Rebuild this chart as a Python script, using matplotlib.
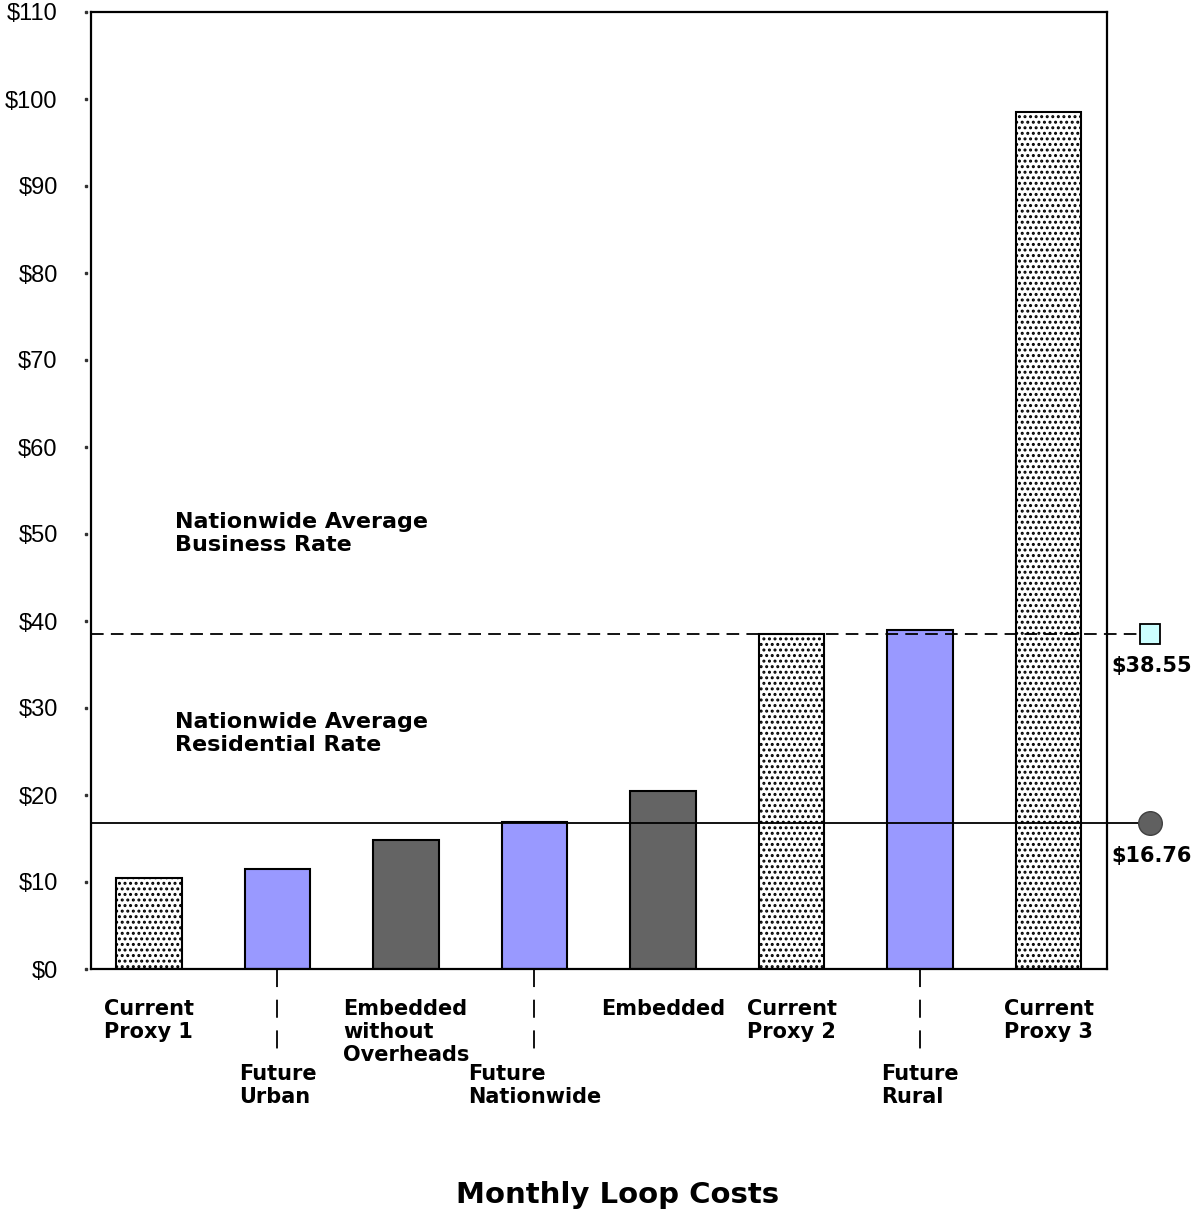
import matplotlib
matplotlib.use('Agg')
import matplotlib.pyplot as plt
import matplotlib.transforms as mtransforms
import numpy as np

# bars, left to right
categories = ['Current\nProxy 1', 'Future\nUrban', 'Embedded\nwithout\nOverheads',
              'Future\nNationwide', 'Embedded', 'Current\nProxy 2',
              'Future\nRural', 'Current\nProxy 3']
costs = [10.5, 11.5, 14.8, 16.9, 20.5, 38.5, 39.0, 98.5]
kinds = ['proxy', 'future', 'embedded', 'future', 'embedded', 'proxy', 'future', 'proxy']

business_rate = 38.55
residential_rate = 16.76

yticks = list(range(0, 111, 10))
ytick_labels = ['${}'.format(v) for v in yticks]

styles = {
    'proxy': dict(color='white', hatch='...'),
    'future': dict(color='#9999ff', hatch=None),
    'embedded': dict(color='#646464', hatch=None),
}

plt.rcParams['hatch.linewidth'] = 1.4
plt.rcParams['hatch.color'] = '#202020'

fig = plt.figure(figsize=(12.01, 12.13), dpi=100)
ax = fig.add_axes([91 / 1201, 244 / 1213, 1016 / 1201, 957 / 1213])

x = np.arange(len(categories))
for xi, c, k in zip(x, costs, kinds):
    st = styles[k]
    ax.bar(xi, c, width=0.51, color=st['color'], hatch=st['hatch'],
           edgecolor='black', linewidth=1.5, zorder=2)

ax.set_xlim(-0.451, 7.455)
ax.set_ylim(0, 110)

# rate lines run past the right spine to their markers
x_end = 7.71
ax.plot([-0.451, x_end], [business_rate] * 2, color='black', lw=1.3,
        ls=(0, (7, 4)), clip_on=False, zorder=3)
ax.plot([-0.451, x_end], [residential_rate] * 2, color='black', lw=1.3,
        clip_on=False, zorder=3)
ax.plot([7.79], [business_rate], marker='s', ms=14, mfc='#ccffff', mec='black',
        mew=1.3, ls='none', clip_on=False, zorder=4)
ax.plot([7.79], [residential_rate], marker='o', ms=17, mfc='#606060', mec='#404040',
        mew=1, ls='none', clip_on=False, zorder=4)
for val in (business_rate, residential_rate):
    ax.text(7.80, val - 2.6, '${:.2f}'.format(val), ha='center', va='top',
            fontsize=15, fontweight='bold', family='DejaVu Sans', clip_on=False)

ax.text(0.2, 52.5, 'Nationwide Average\nBusiness Rate', ha='left', va='top',
        fontsize=16, fontweight='bold', family='DejaVu Sans', linespacing=1.15)
ax.text(0.2, 29.5, 'Nationwide Average\nResidential Rate', ha='left', va='top',
        fontsize=16, fontweight='bold', family='DejaVu Sans', linespacing=1.15)

# category labels: the "future" ones sit on a lower row with a dashed leader
for i, (lab, k) in enumerate(zip(categories, kinds)):
    if k == 'future':
        ax.plot([i, i], [0, -9.3], color='black', lw=1.3, ls=(0, (10, 7)),
                clip_on=False)
        y_lab = -10.9
    else:
        y_lab = -3.4
    ax.text(i, y_lab, lab, ha='center', va='top', multialignment='left',
            fontsize=15, fontweight='bold', family='DejaVu Sans',
            linespacing=1.2, clip_on=False)

ax.set_xticks([])
ax.set_yticks(yticks)
ax.set_yticklabels(ytick_labels, family='Liberation Sans', fontsize=17)
ax.tick_params(axis='y', length=0, pad=24)
trans = mtransforms.blended_transform_factory(ax.transAxes, ax.transData)
ax.plot([-0.0045] * len(yticks), yticks, ls='none', marker='s', ms=1.5,
        color='#333333', transform=trans, clip_on=False)

for sp in ax.spines.values():
    sp.set_linewidth(1.6)

fig.text(618 / 1201, 1 - 1195 / 1213, 'Monthly Loop Costs', ha='center', va='center',
         fontsize=21, fontweight='bold', family='DejaVu Sans')

fig.savefig('out.png', dpi=100)
